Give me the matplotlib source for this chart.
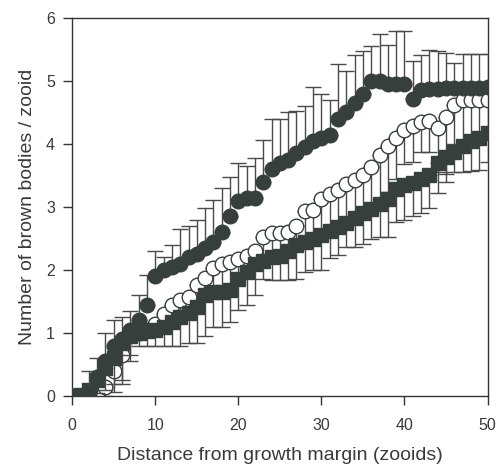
import numpy as np
import matplotlib.pyplot as plt

plt.rcParams['font.family'] = ['Liberation Sans', 'DejaVu Sans']

# distance from the growth margin (zooids)
dist = np.arange(0, 51)

# filled circles: mean and upper end of the error bar
filled = [0.0, 0.0, 0.05, 0.3, 0.55, 0.8, 0.9, 1.05, 1.2, 1.45,
          1.9, 2.0, 2.05, 2.1, 2.2, 2.25, 2.35, 2.45, 2.6, 2.85,
          3.1, 3.15, 3.15, 3.4, 3.6, 3.7, 3.75, 3.85, 3.95, 4.05,
          4.1, 4.15, 4.4, 4.5, 4.65, 4.8, 5.0, 5.0, 4.95, 4.95,
          4.95, 4.72, 4.85, 4.87, 4.87, 4.88, 4.88, 4.88, 4.88, 4.88,
          4.9]
filled_hi = [0.0, 0.05, 0.4, 0.6, 1.0, 1.2, 1.25, 1.35, 1.6, 1.92,
             2.3, 2.21, 2.4, 2.65, 2.7, 2.8, 2.98, 3.11, 3.3, 3.48,
             3.7, 3.65, 3.77, 4.07, 4.4, 4.4, 4.5, 4.53, 4.61, 4.9,
             4.79, 4.7, 5.27, 5.16, 5.41, 5.48, 5.55, 5.75, 5.57, 5.79,
             5.79, 5.32, 5.41, 5.49, 5.47, 5.45, 5.28, 5.43, 5.43, 5.43,
             5.43]

# open circles: mean and lower end of the error bar
opened = [0.0, 0.0, 0.0, 0.0, 0.15, 0.4, 0.65, 0.95, 1.0, 1.05,
          1.15, 1.3, 1.45, 1.52, 1.58, 1.76, 1.87, 2.03, 2.1, 2.12,
          2.17, 2.22, 2.3, 2.52, 2.58, 2.59, 2.6, 2.7, 2.93, 2.96,
          3.12, 3.2, 3.27, 3.37, 3.43, 3.5, 3.64, 3.83, 3.96, 4.09,
          4.22, 4.28, 4.35, 4.37, 4.25, 4.42, 4.62, 4.7, 4.7, 4.7,
          4.7]
opened_lo = [0.0, 0.0, 0.0, 0.0, 0.0, 0.07, 0.2, 0.55, 1.0, 1.05,
             1.1, 1.15, 1.2, 1.3, 1.35, 1.45, 1.6, 1.7, 1.7, 1.72,
             1.9, 2.0, 2.12, 2.18, 2.22, 2.25, 2.33, 2.42, 2.47, 2.52,
             2.57, 2.65, 2.7, 2.78, 2.85, 2.92, 3.0, 3.08, 3.24, 3.45,
             3.69, 3.72, 3.88, 3.88, 3.55, 3.4, 4.0, 4.0, 4.05, 4.1,
             4.15]

# filled squares: mean and lower end of the error bar
squares = [0.0, 0.02, 0.1, 0.25, 0.45, 0.6, 0.85, 0.95, 1.0, 1.03,
           1.05, 1.1, 1.18, 1.25, 1.32, 1.42, 1.6, 1.65, 1.65, 1.68,
           1.85, 1.97, 2.1, 2.15, 2.2, 2.22, 2.3, 2.4, 2.45, 2.5,
           2.55, 2.62, 2.68, 2.75, 2.83, 2.9, 2.97, 3.05, 3.13, 3.28,
           3.35, 3.38, 3.45, 3.5, 3.7, 3.8, 3.88, 3.96, 4.04, 4.1,
           4.17]
squares_lo = [0.0, 0.0, 0.0, 0.05, 0.1, 0.2, 0.25, 0.65, 0.8, 0.8,
              0.8, 0.8, 0.8, 0.8, 0.85, 0.85, 0.95, 1.1, 1.1, 1.18,
              1.37, 1.45, 1.6, 1.85, 1.84, 1.84, 1.84, 1.85, 1.97, 2.0,
              2.0, 2.19, 2.24, 2.37, 2.37, 2.42, 2.5, 2.53, 2.53, 2.77,
              2.79, 2.85, 2.9, 2.98, 3.22, 3.53, 3.56, 3.56, 3.57, 3.58,
              3.72]

dark = '#363f3b'
barc = '#4a4a4a'
txt = '#3a3a3a'

fig = plt.figure(figsize=(4.98, 4.71), dpi=100)
ax = fig.add_axes([0.145, 0.159, 0.834, 0.803])

def draw(y, err, marker, face, ms, z):
    y = np.array(y)
    ax.errorbar(dist, y, yerr=err, fmt='none', ecolor=barc, elinewidth=1.0,
                capsize=5.5, capthick=1.0, zorder=z)
    ax.plot(dist, y, linestyle='none', marker=marker, ms=ms,
            markerfacecolor=face, markeredgecolor=dark, markeredgewidth=1.0,
            zorder=z + 0.5)

op = np.array(opened)
draw(opened, [op - np.array(opened_lo), np.zeros_like(op)], 'o', 'white', 10.5, 2)
sq = np.array(squares)
draw(squares, [sq - np.array(squares_lo), np.zeros_like(sq)], 's', dark, 9.5, 3)
fl = np.array(filled)
draw(filled, [np.zeros_like(fl), np.array(filled_hi) - fl], 'o', dark, 10.5, 4)

ax.set_xlim(0, 50)
ax.set_ylim(0, 6)
ax.set_xticks([0, 10, 20, 30, 40, 50])
ax.set_yticks([0, 1, 2, 3, 4, 5, 6])
ax.tick_params(direction='out', length=6.5, width=1.0, color='#333333',
               labelsize=11.5, labelcolor=txt)
ax.tick_params(axis='x', pad=9)
ax.tick_params(axis='y', pad=6)
for s in ax.spines.values():
    s.set_color('#333333')
    s.set_linewidth(1.0)

ax.set_xlabel('Distance from growth margin (zooids)', fontsize=14,
              color=txt, labelpad=10)
ax.set_ylabel('Number of brown bodies / zooid', fontsize=14,
              color=txt, labelpad=7)

fig.savefig('out.png', dpi=100)
